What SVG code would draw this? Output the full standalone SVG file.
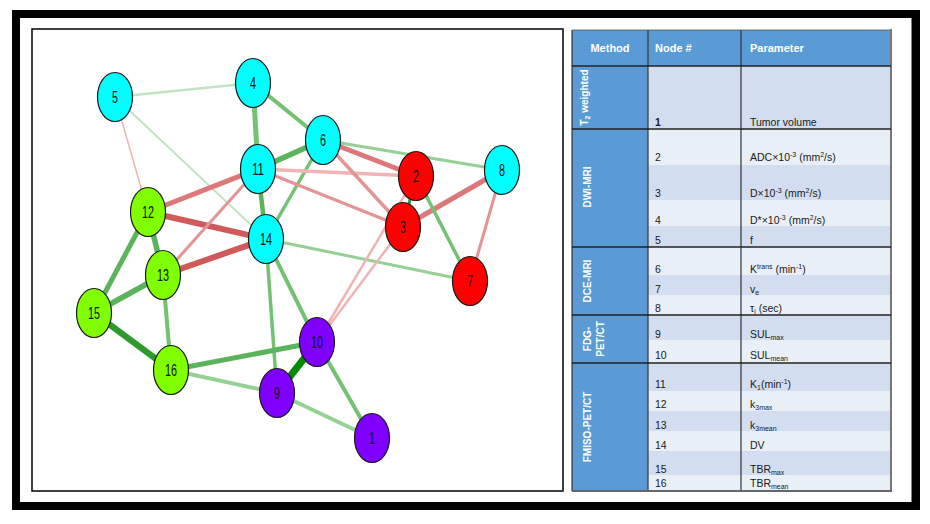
<svg xmlns="http://www.w3.org/2000/svg" width="930" height="524" viewBox="0 0 930 524">
<style>
.frame{fill:none;stroke:#000;stroke-width:8}
.panel{fill:#fff;stroke:#000;stroke-width:1.5}
.edges line{fill:none;stroke-linecap:butt}
.gA{stroke:#008a00}.gB{stroke:#2e9a2e}.gC{stroke:#5bb45b}.gD{stroke:#72c272}.gE{stroke:#95d195}.gF{stroke:#c0e3c0}
.rA{stroke:#d05a5a}.rB{stroke:#dc7878}.rC{stroke:#e49494}.rD{stroke:#f0b4b4}
.node ellipse{stroke:#1a1a1a;stroke-width:1.2}
.cy{fill:#00ffff}.rd{fill:#ff0000}.gr{fill:#80ff00}.pu{fill:#8000ff}
.lbl{font-family:"Liberation Sans",Arial,sans-serif;font-size:17px;fill:#111;text-anchor:middle;lengthAdjust:spacingAndGlyphs}
.hdr{font-family:"Liberation Sans",Arial,sans-serif;font-size:11px;font-weight:bold;fill:#fff}
.meth{font-family:"Liberation Sans",Arial,sans-serif;font-size:10px;font-weight:bold;fill:#fff;text-anchor:middle}
.cell{font-family:"Liberation Sans",Arial,sans-serif;font-size:10.5px;fill:#1a1a1a}
.dk{fill:#d2deef}.lt{fill:#e9eff7}
.sep{stroke:#222;stroke-width:1.5}
.vline{stroke:#333;stroke-width:1.2}
</style>
<rect x="0" y="0" width="930" height="524" fill="#fff"/>
<rect class="frame" x="16" y="14" width="900" height="492"/>
<line x1="911.5" y1="18" x2="911.5" y2="502" stroke="#d2691e" stroke-width="1"/>
<rect class="panel" x="32" y="29" width="531" height="462"/>

<g id="connectors" class="edges">
<line class="gF" x1="115" y1="97" x2="253" y2="83" stroke-width="2.5"/>
<line class="gF" x1="115" y1="97" x2="266" y2="239" stroke-width="2"/>
<line class="rD" x1="115" y1="97" x2="148" y2="212" stroke-width="1.5"/>
<line class="gD" x1="253" y1="83" x2="258" y2="169" stroke-width="5"/>
<line class="gD" x1="253" y1="83" x2="323" y2="140" stroke-width="4"/>
<line class="gC" x1="258" y1="169" x2="323" y2="140" stroke-width="5.5"/>
<line class="gC" x1="258" y1="169" x2="266" y2="239" stroke-width="4.5"/>
<line class="gD" x1="323" y1="140" x2="266" y2="239" stroke-width="3.5"/>
<line class="gE" x1="323" y1="140" x2="502" y2="170" stroke-width="3"/>
<line class="rD" x1="258" y1="169" x2="416" y2="176" stroke-width="3.5"/>
<line class="rC" x1="258" y1="169" x2="403" y2="227" stroke-width="3.5"/>
<line class="rB" x1="323" y1="140" x2="416" y2="176" stroke-width="5"/>
<line class="rC" x1="323" y1="140" x2="403" y2="227" stroke-width="3.5"/>
<line class="rB" x1="403" y1="227" x2="502" y2="170" stroke-width="5"/>
<line class="rC" x1="502" y1="170" x2="470" y2="281" stroke-width="3"/>
<line class="gD" x1="416" y1="176" x2="470" y2="281" stroke-width="3.5"/>
<line class="gB" x1="416" y1="176" x2="403" y2="227" stroke-width="3"/>
<line class="gE" x1="266" y1="239" x2="470" y2="281" stroke-width="3"/>
<line class="rD" x1="317" y1="342" x2="416" y2="176" stroke-width="2.5"/>
<line class="rD" x1="317" y1="342" x2="403" y2="227" stroke-width="2.5"/>
<line class="rB" x1="148" y1="212" x2="258" y2="169" stroke-width="5"/>
<line class="rA" x1="148" y1="212" x2="266" y2="239" stroke-width="6"/>
<line class="rC" x1="163" y1="275" x2="258" y2="169" stroke-width="3"/>
<line class="rA" x1="163" y1="275" x2="266" y2="239" stroke-width="6"/>
<line class="gD" x1="266" y1="239" x2="317" y2="342" stroke-width="4"/>
<line class="gD" x1="266" y1="239" x2="277" y2="393" stroke-width="3.5"/>
<line class="gC" x1="148" y1="212" x2="94" y2="313" stroke-width="5"/>
<line class="gC" x1="148" y1="212" x2="163" y2="275" stroke-width="5.5"/>
<line class="gC" x1="163" y1="275" x2="94" y2="313" stroke-width="5.5"/>
<line class="gD" x1="163" y1="275" x2="171" y2="370" stroke-width="4"/>
<line class="gB" x1="94" y1="313" x2="171" y2="370" stroke-width="6.5"/>
<line class="gC" x1="171" y1="370" x2="317" y2="342" stroke-width="5"/>
<line class="gE" x1="171" y1="370" x2="277" y2="393" stroke-width="4"/>
<line class="gA" x1="317" y1="342" x2="277" y2="393" stroke-width="7"/>
<line class="gD" x1="317" y1="342" x2="372" y2="438" stroke-width="4"/>
<line class="gE" x1="277" y1="393" x2="372" y2="438" stroke-width="4"/>
</g>

<g id="node1" class="node"><ellipse class="pu" cx="372" cy="438" rx="17.5" ry="24.5"/><text class="lbl" x="372" y="444" textLength="6" lengthAdjust="spacingAndGlyphs">1</text></g>
<g id="node2" class="node"><ellipse class="rd" cx="416" cy="176" rx="17.5" ry="24.5"/><text class="lbl" x="416" y="182" textLength="6" lengthAdjust="spacingAndGlyphs">2</text></g>
<g id="node3" class="node"><ellipse class="rd" cx="403" cy="227" rx="17.5" ry="24.5"/><text class="lbl" x="403" y="233" textLength="6" lengthAdjust="spacingAndGlyphs">3</text></g>
<g id="node4" class="node"><ellipse class="cy" cx="253" cy="83" rx="17.5" ry="24.5"/><text class="lbl" x="253" y="89" textLength="6" lengthAdjust="spacingAndGlyphs">4</text></g>
<g id="node5" class="node"><ellipse class="cy" cx="115" cy="97" rx="17.5" ry="24.5"/><text class="lbl" x="115" y="103" textLength="6" lengthAdjust="spacingAndGlyphs">5</text></g>
<g id="node6" class="node"><ellipse class="cy" cx="323" cy="140" rx="17.5" ry="24.5"/><text class="lbl" x="323" y="146" textLength="6" lengthAdjust="spacingAndGlyphs">6</text></g>
<g id="node7" class="node"><ellipse class="rd" cx="470" cy="281" rx="17.5" ry="24.5"/><text class="lbl" x="470" y="287" textLength="6" lengthAdjust="spacingAndGlyphs">7</text></g>
<g id="node8" class="node"><ellipse class="cy" cx="502" cy="170" rx="17.5" ry="24.5"/><text class="lbl" x="502" y="176" textLength="6" lengthAdjust="spacingAndGlyphs">8</text></g>
<g id="node9" class="node"><ellipse class="pu" cx="277" cy="393" rx="17.5" ry="24.5"/><text class="lbl" x="277" y="399" textLength="6" lengthAdjust="spacingAndGlyphs">9</text></g>
<g id="node10" class="node"><ellipse class="pu" cx="317" cy="342" rx="17.5" ry="24.5"/><text class="lbl" x="317" y="348" textLength="12" lengthAdjust="spacingAndGlyphs">10</text></g>
<g id="node11" class="node"><ellipse class="cy" cx="258" cy="169" rx="17.5" ry="24.5"/><text class="lbl" x="258" y="175" textLength="12" lengthAdjust="spacingAndGlyphs">11</text></g>
<g id="node12" class="node"><ellipse class="gr" cx="148" cy="212" rx="17.5" ry="24.5"/><text class="lbl" x="148" y="218" textLength="12" lengthAdjust="spacingAndGlyphs">12</text></g>
<g id="node13" class="node"><ellipse class="gr" cx="163" cy="275" rx="17.5" ry="24.5"/><text class="lbl" x="163" y="281" textLength="12" lengthAdjust="spacingAndGlyphs">13</text></g>
<g id="node14" class="node"><ellipse class="cy" cx="266" cy="239" rx="17.5" ry="24.5"/><text class="lbl" x="266" y="245" textLength="12" lengthAdjust="spacingAndGlyphs">14</text></g>
<g id="node15" class="node"><ellipse class="gr" cx="94" cy="313" rx="17.5" ry="24.5"/><text class="lbl" x="94" y="319" textLength="12" lengthAdjust="spacingAndGlyphs">15</text></g>
<g id="node16" class="node"><ellipse class="gr" cx="171" cy="370" rx="17.5" ry="24.5"/><text class="lbl" x="171" y="376" textLength="12" lengthAdjust="spacingAndGlyphs">16</text></g>

<g id="table">
<rect x="572" y="30" width="319" height="36" fill="#5b9bd5"/>
<rect x="572" y="66" width="76" height="425" fill="#5b9bd5"/>
<rect class="dk" x="648" y="66" width="243" height="63"/>
<rect class="lt" x="648" y="129" width="243" height="36"/>
<rect class="dk" x="648" y="165" width="243" height="35"/>
<rect class="lt" x="648" y="200" width="243" height="26"/>
<rect class="dk" x="648" y="226" width="243" height="21"/>
<rect class="lt" x="648" y="247" width="243" height="28"/>
<rect class="dk" x="648" y="275" width="243" height="20"/>
<rect class="lt" x="648" y="295" width="243" height="20"/>
<rect class="dk" x="648" y="315" width="243" height="25"/>
<rect class="lt" x="648" y="340" width="243" height="23"/>
<rect class="dk" x="648" y="363" width="243" height="28"/>
<rect class="lt" x="648" y="391" width="243" height="20"/>
<rect class="dk" x="648" y="411" width="243" height="20"/>
<rect class="lt" x="648" y="431" width="243" height="20"/>
<rect class="dk" x="648" y="451" width="243" height="24"/>
<rect class="lt" x="648" y="475" width="243" height="16"/>
<line class="vline" x1="648" y1="30" x2="648" y2="491"/>
<line class="vline" x1="741" y1="30" x2="741" y2="491"/>
<line x1="572" y1="30" x2="572" y2="491" stroke="#333" stroke-width="1.2"/>
<line x1="572" y1="30" x2="891" y2="30" stroke="#555" stroke-width="0.8"/>
<line x1="891" y1="29" x2="891" y2="492" stroke="#777" stroke-width="2"/>
<line x1="572" y1="491" x2="892" y2="491" stroke="#666" stroke-width="2"/>
<line class="sep" x1="572" y1="66" x2="891" y2="66"/>
<line class="sep" x1="572" y1="129" x2="891" y2="129"/>
<line class="sep" x1="572" y1="247" x2="891" y2="247"/>
<line class="sep" x1="572" y1="315" x2="891" y2="315"/>
<line class="sep" x1="572" y1="363" x2="891" y2="363"/>

<text class="hdr" x="610" y="52" text-anchor="middle">Method</text>
<text class="hdr" x="655" y="52">Node #</text>
<text class="hdr" x="750" y="52">Parameter</text>

<text class="meth" transform="translate(588,97.5) rotate(-90)">T<tspan font-size="7" dy="2">2</tspan><tspan dy="-2">  weighted</tspan></text>
<text class="meth" transform="translate(591,187) rotate(-90)">DWI-MRI</text>
<text class="meth" transform="translate(591,281) rotate(-90)">DCE-MRI</text>
<text class="meth" transform="translate(591,339) rotate(-90)">FDG-</text>
<text class="meth" transform="translate(604,339) rotate(-90)">PET/CT</text>
<text class="meth" transform="translate(591,427) rotate(-90)">FMISO-PET/CT</text>

<text class="cell" x="655" y="125.7" font-weight="bold">1</text>
<text class="cell" x="655" y="161">2</text>
<text class="cell" x="655" y="197">3</text>
<text class="cell" x="655" y="224">4</text>
<text class="cell" x="655" y="244">5</text>
<text class="cell" x="655" y="273">6</text>
<text class="cell" x="655" y="293">7</text>
<text class="cell" x="655" y="311.5">8</text>
<text class="cell" x="655" y="338">9</text>
<text class="cell" x="655" y="359">10</text>
<text class="cell" x="655" y="387.5">11</text>
<text class="cell" x="655" y="408">12</text>
<text class="cell" x="655" y="429">13</text>
<text class="cell" x="655" y="449">14</text>
<text class="cell" x="655" y="473">15</text>
<text class="cell" x="655" y="487">16</text>

<text class="cell" x="750" y="125.7">Tumor volume</text>
<text class="cell" x="750" y="161">ADC×10<tspan font-size="7" dy="-4">-3</tspan><tspan dy="4"> (mm</tspan><tspan font-size="7" dy="-4">2</tspan><tspan dy="4">/s)</tspan></text>
<text class="cell" x="750" y="197">D×10<tspan font-size="7" dy="-4">-3</tspan><tspan dy="4"> (mm</tspan><tspan font-size="7" dy="-4">2</tspan><tspan dy="4">/s)</tspan></text>
<text class="cell" x="750" y="224">D*×10<tspan font-size="7" dy="-4">-3</tspan><tspan dy="4"> (mm</tspan><tspan font-size="7" dy="-4">2</tspan><tspan dy="4">/s)</tspan></text>
<text class="cell" x="750" y="244">f</text>
<text class="cell" x="750" y="273">K<tspan font-size="7" dy="-4">trans</tspan><tspan dy="4"> (min</tspan><tspan font-size="7" dy="-4">-1</tspan><tspan dy="4">)</tspan></text>
<text class="cell" x="750" y="293">v<tspan font-size="7" dy="2">e</tspan></text>
<text class="cell" x="750" y="311.5">τ<tspan font-size="7" dy="2">i</tspan><tspan dy="-2"> (sec)</tspan></text>
<text class="cell" x="750" y="338">SUL<tspan font-size="7" dy="2">max</tspan></text>
<text class="cell" x="750" y="359">SUL<tspan font-size="7" dy="2">mean</tspan></text>
<text class="cell" x="750" y="387.5">K<tspan font-size="7" dy="2">1</tspan><tspan dy="-2">(min</tspan><tspan font-size="7" dy="-4">-1</tspan><tspan dy="4">)</tspan></text>
<text class="cell" x="750" y="408">k<tspan font-size="7" dy="2">3max</tspan></text>
<text class="cell" x="750" y="429">k<tspan font-size="7" dy="2">3mean</tspan></text>
<text class="cell" x="750" y="449">DV</text>
<text class="cell" x="750" y="473">TBR<tspan font-size="7" dy="2">max</tspan></text>
<text class="cell" x="750" y="487">TBR<tspan font-size="7" dy="2">mean</tspan></text>
</g>
</svg>
